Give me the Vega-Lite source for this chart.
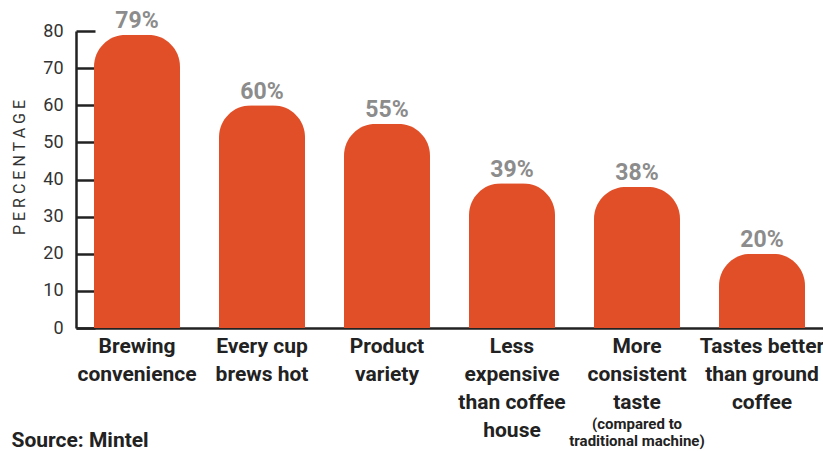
{
  "$schema": "https://vega.github.io/schema/vega-lite/v6.json",
  "width": 747,
  "height": 297,
  "autosize": {"type": "none"},
  "padding": {"left": 76, "top": 31, "right": 0, "bottom": 123},
  "background": "white",
  "config": {
    "view": {"stroke": null},
    "font": "Roboto",
    "axisY": {
      "titleFontSize": 16,
      "titleFontWeight": "normal",
      "titleColor": "#333333",
      "labelOverlap": false,
      "grid": false,
      "tickColor": "#222222",
      "tickWidth": 2.5,
      "domainColor": "#222222",
      "domainWidth": 2.5,
      "labelFontSize": 18,
      "labelColor": "#333333"
    }
  },
  "data": {
    "values": [
      {"reason": "Brewing|convenience", "pct": 79, "label": "79%", "note": ""},
      {"reason": "Every cup|brews hot", "pct": 60, "label": "60%", "note": ""},
      {"reason": "Product|variety", "pct": 55, "label": "55%", "note": ""},
      {"reason": "Less|expensive|than coffee|house", "pct": 39, "label": "39%", "note": ""},
      {"reason": "More|consistent|taste", "pct": 38, "label": "38%", "note": ["(compared to", "traditional machine)"]},
      {"reason": "Tastes better|than ground|coffee", "pct": 20, "label": "20%", "note": ""}
    ]
  },
  "encoding": {
    "x": {
      "field": "reason",
      "type": "nominal",
      "sort": null,
      "scale": {"paddingInner": 0.312, "paddingOuter": 0.144},
      "axis": {
        "title": "Source: Mintel",
        "titleAnchor": "start",
        "titleAlign": "left",
        "titleBaseline": "alphabetic",
        "titleX": -65,
        "titleY": 118,
        "titleFontSize": 21,
        "titleFontWeight": "bold",
        "titleColor": "#222222",
        "labelAngle": 0,
        "labelExpr": "split(datum.label, '|')",
        "labelFontSize": 21,
        "labelFontWeight": "bold",
        "labelColor": "#222222",
        "labelLineHeight": 28,
        "labelPadding": 7,
        "labelBaseline": "top",
        "ticks": false,
        "domainColor": "#222222",
        "domainWidth": 2.5
      }
    }
  },
  "resolve": {"axis": {"y": "independent"}},
  "layer": [
    {
      "mark": {"type": "bar", "color": "#E04F27", "cornerRadiusTopLeft": 32, "cornerRadiusTopRight": 32},
      "encoding": {
        "y": {
          "field": "pct",
          "type": "quantitative",
          "scale": {"domain": [0, 80], "nice": false},
          "axis": {
            "orient": "left",
            "title": "P E R C E N T A G E",
            "titleX": -49,
            "titleY": 136,
            "titleAngle": -90,
            "titleBaseline": "bottom",
            "titleAlign": "center",
            "values": [0, 10, 20, 30, 40, 50, 60, 70, 80],
            "ticks": false,
            "labelPadding": 13
          }
        }
      }
    },
    {
      "mark": {"type": "text", "baseline": "alphabetic", "dy": -6.5, "fontSize": 23, "fontWeight": "bold", "color": "#8C8C8C"},
      "encoding": {
        "y": {"field": "pct", "type": "quantitative", "axis": {"orient": "right", "title": null, "values": [0, 10, 20, 30, 40, 50, 60, 70, 80], "labels": false, "domain": false, "ticks": true, "tickSize": 19, "offset": -747}},
        "text": {"field": "label"}
      }
    },
    {
      "mark": {"type": "text", "baseline": "top", "dy": 89, "fontSize": 15, "fontWeight": "bold", "color": "#222222", "lineHeight": 17},
      "encoding": {
        "y": {"datum": 0, "type": "quantitative", "axis": null},
        "text": {"field": "note"}
      }
    }
  ]
}
